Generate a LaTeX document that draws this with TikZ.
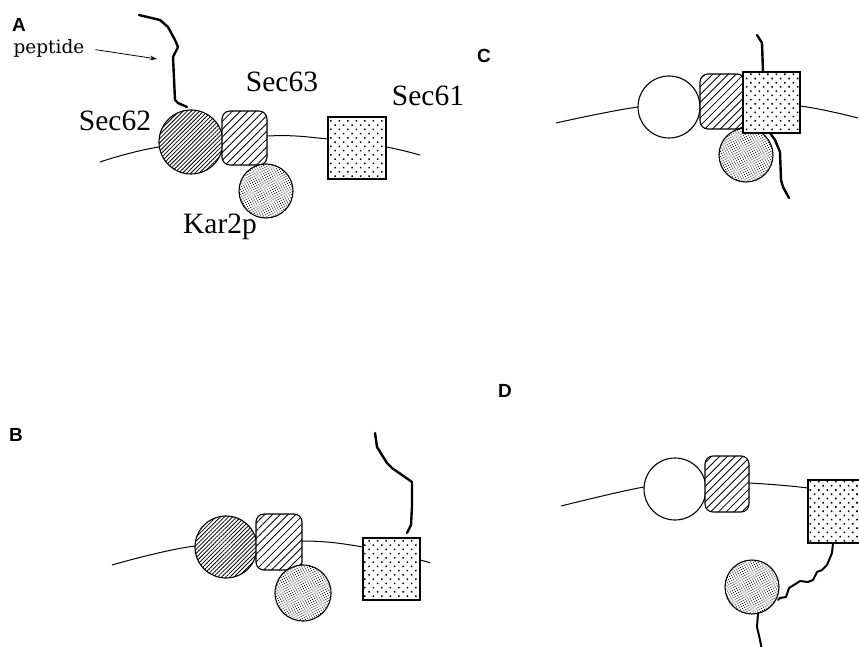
\documentclass[tikz,border=0pt]{standalone}
\usepackage{fontspec}
\setmainfont{Liberation Serif}
\newfontfamily\lsans{Liberation Sans}
\newfontfamily\dvserif{DejaVu Serif}
\usetikzlibrary{patterns.meta,arrows.meta}
\begin{document}
\begin{tikzpicture}[x=1pt,y=-1pt,
  mem/.style={line width=1pt},
  pept/.style={line width=2.4pt, line join=round, line cap=round},
  shp/.style={draw, line width=1.1pt, inner sep=0pt, outer sep=0pt, preaction={fill=white}},
  dense/.style={shp, circle, pattern={Lines[angle=45,distance=2.9pt,line width=0.8pt]}},
  open/.style={shp, circle},
  hbox/.style={shp, rectangle, rounded corners=8pt, pattern={Lines[angle=45,distance=5.5pt,line width=0.85pt]}},
  dbox/.style={shp, rectangle, pattern={Dots[radius=1.1pt,distance=6pt,angle=45]}},
  kar/.style={shp, circle, minimum size=54pt, pattern={Dots[radius=0.6pt,distance=2.3pt,angle=30]}},
  lbl/.style={inner sep=0pt, font=\fontsize{29.5}{31}\selectfont},
  panel/.style={inner sep=0pt, font=\fontsize{19}{21}\selectfont\lsans\bfseries}
]
\useasboundingbox (0,0) rectangle (859,647);
\clip (0,0) rectangle (859,647);

% ---------------- Panel A ----------------
\draw[mem] plot[smooth, tension=0.6] coordinates {(100,162) (159,147) (267,136) (328,139) (386,147) (420,155)};
\node[dense, minimum size=64pt] (s62a) at (191,142) {};
\node[hbox, minimum width=45pt, minimum height=54pt] (s63a) at (244.5,138) {};
\node[kar] (k2a) at (266,191) {};
\node[dbox, minimum width=58pt, minimum height=62pt] (s61a) at (357,148) {};
\draw[pept] (139,15) -- (160,20) -- (168,27) -- (175,40) -- (178,47) -- (173,57) -- (175,100) -- (178,103) -- (187,107);
\node[panel] (la) at (19,25) {A};
\node[inner sep=0pt, font=\fontsize{18.5}{20}\selectfont\dvserif] (pep) at (49,48) {peptide};
\coordinate (pepend) at (157,59);
\draw[line width=0.8pt, -{Stealth[length=7pt,width=4.5pt]}, shorten <=11pt] (pep.east) -- (pepend);
\node[lbl] (t62) at (115,121) {Sec62};
\node[lbl] (t63) at (282,82) {Sec63};
\node[lbl] (t61) at (428,96) {Sec61};
\node[lbl] (tk2) at (220,227) {Kar2p};

% ---------------- Panel C ----------------
\node[panel] (lc) at (484,56) {C};
\draw[mem] plot[smooth, tension=0.6] coordinates {(556,123) (638,107) (720,101) (800,106) (858,118)};
\node[open, minimum size=62pt] (s62c) at (669,107) {};
\node[hbox, minimum width=45pt, minimum height=55pt] (s63c) at (722.5,101.5) {};
\node[kar] (k2c) at (746,155) {};
\node[dbox, minimum width=57pt, minimum height=61pt] (s61c) at (771.5,102.5) {};
\draw[pept] (757,35) -- (762,43) -- (763,72);
\draw[pept] (770,133) -- (775,140) -- (780,152) -- (781,180) -- (783,187) -- (789,198);

% ---------------- Panel B ----------------
\node[panel] (lb) at (16,435) {B};
\draw[mem] plot[smooth, tension=0.6] coordinates {(112,565) (195,546) (302,541) (363,547) (420,560) (430,563)};
\node[dense, minimum size=62pt] (s62b) at (226,547) {};
\node[hbox, minimum width=46pt, minimum height=56pt] (s63b) at (279,542) {};
\node[kar, minimum size=56pt] (k2b) at (303,593) {};
\node[dbox, minimum width=57pt, minimum height=62pt] (s61b) at (391.5,569) {};
\draw[pept] (375,433) -- (377,447) -- (387,463) -- (392,468) -- (412,482) -- (412,507) -- (411,525) -- (407,533);

% ---------------- Panel D ----------------
\node[panel] (ld) at (505,391) {D};
\draw[mem] plot[smooth, tension=0.6] coordinates {(561,506) (644,487) (700,482) (749,483) (808,488) (860,497)};
\node[open, minimum size=62pt] (s62d) at (675,489) {};
\node[hbox, minimum width=44pt, minimum height=56pt] (s63d) at (727,484) {};
\node[kar] (k2d) at (752,587) {};
\node[dbox, minimum width=57pt, minimum height=63pt] (s61d) at (836.5,511.5) {};
\draw[pept, line width=2pt] (833,543) -- (832,553) -- (827,565) -- (822,570) -- (817,572) -- (813,580) -- (808,582) -- (800,581) -- (797,583) -- (789,588) -- (786,597) -- (780,598) -- (778,600);
\draw[pept, line width=2pt] (758,613) -- (757,627) -- (760,640) -- (762,650);
\end{tikzpicture}
\end{document}
